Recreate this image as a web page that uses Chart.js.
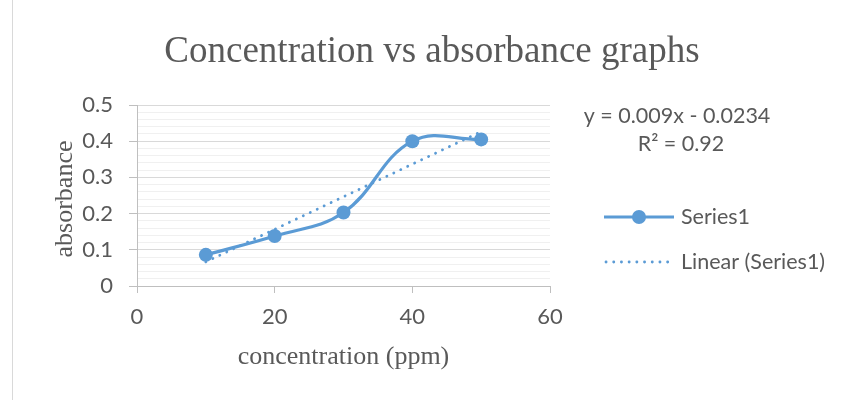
<!DOCTYPE html>
<html>
<head>
<meta charset="utf-8">
<script src="https://cdn.jsdelivr.net/npm/chart.js@4/dist/chart.umd.min.js"></script>
<style>
  html, body { margin: 0; padding: 0; background: #fff; }
  #wrap { position: relative; width: 846px; height: 400px; }
  #frame { position: absolute; left: 12px; top: 0; width: 1px; height: 400px; background: #d9d9d9; }
</style>
</head>
<body>
<div id="wrap">
  <canvas id="chart" width="846" height="400"></canvas>
  <div id="frame"></div>
</div>
<script>
// ── Data ────────────────────────────────────────────────────────────────
const chartTitle    = 'Concentration vs absorbance graphs';
const xAxisTitle    = 'concentration (ppm)';
const yAxisTitle    = 'absorbance';
const concentration = [10, 20, 30, 40, 50];
const absorbance    = [0.086, 0.138, 0.203, 0.400, 0.405];
const trendX        = [10, 50];
const trendY        = [0.0666, 0.4266];
const yTickLabels   = ['0', '0.1', '0.2', '0.3', '0.4', '0.5'];
const equationLines = ['y = 0.009x - 0.0234', 'R² = 0.92'];
const legendLabels  = ['Series1', 'Linear (Series1)'];

const BLUE  = '#5b9bd5';
const TEXT  = '#595959';
const SANS  = 'Lato, "Open Sans", sans-serif';
const SERIF = '"Liberation Serif", "Times New Roman", serif';

const isMajor = v => Math.abs(v * 10 - Math.round(v * 10)) < 1e-6;

// ── Title, axis titles, trend equation and legend ───────────────────────
const annotations = {
  id: 'annotations',
  afterDraw(chart) {
    const ctx = chart.ctx;
    const area = chart.chartArea;
    ctx.save();
    ctx.fillStyle = TEXT;
    ctx.textAlign = 'center';
    ctx.textBaseline = 'alphabetic';

    ctx.font = `37px ${SERIF}`;
    ctx.fillText(chartTitle, 432, 62);

    ctx.font = `26px ${SERIF}`;
    ctx.fillText(xAxisTitle, (area.left + area.right) / 2, 364);
    ctx.save();
    ctx.translate(72, 199);
    ctx.rotate(-Math.PI / 2);
    ctx.fillText(yAxisTitle, 0, 0);
    ctx.restore();

    ctx.textBaseline = 'middle';
    ctx.font = `21.5px ${SANS}`;
    ctx.fillText(equationLines[0], 677, 116);
    ctx.fillText(equationLines[1], 681, 144);

    // legend: series line with marker
    ctx.strokeStyle = BLUE;
    ctx.lineWidth = 3;
    ctx.beginPath(); ctx.moveTo(604, 217); ctx.lineTo(674, 217); ctx.stroke();
    ctx.fillStyle = BLUE;
    ctx.beginPath(); ctx.arc(639, 217, 7, 0, Math.PI * 2); ctx.fill();

    // legend: dotted trend line
    ctx.lineWidth = 2.8;
    ctx.lineCap = 'round';
    ctx.setLineDash([0.1, 7.6]);
    ctx.beginPath(); ctx.moveTo(606, 262); ctx.lineTo(674, 262); ctx.stroke();
    ctx.setLineDash([]);

    ctx.fillStyle = TEXT;
    ctx.textAlign = 'left';
    ctx.fillText(legendLabels[0], 681, 217);
    ctx.fillText(legendLabels[1], 681, 262);
    ctx.restore();
  }
};

new Chart(document.getElementById('chart'), {
  type: 'line',
  data: {
    datasets: [
      {
        label: legendLabels[1],
        data: trendX.map((x, i) => ({ x, y: trendY[i] })),
        borderColor: BLUE,
        borderWidth: 2.8,
        borderDash: [0.1, 7.6],
        borderCapStyle: 'round',
        pointRadius: 0,
        tension: 0,
        order: 2
      },
      {
        label: legendLabels[0],
        data: concentration.map((x, i) => ({ x, y: absorbance[i] })),
        borderColor: BLUE,
        backgroundColor: BLUE,
        borderWidth: 3.2,
        pointRadius: 7,
        pointBorderWidth: 0,
        pointBackgroundColor: BLUE,
        tension: 0.4,
        order: 1
      }
    ]
  },
  options: {
    responsive: false,
    animation: false,
    layout: { padding: { top: 105, right: 296, left: 0, bottom: 0 } },
    plugins: { legend: { display: false }, title: { display: false }, tooltip: { enabled: false } },
    scales: {
      x: {
        type: 'linear',
        min: 0, max: 60,
        ticks: { stepSize: 20, color: TEXT, font: { family: SANS, size: 22 }, padding: 11 },
        grid: { drawOnChartArea: false, drawTicks: true, tickLength: 7, color: '#bfbfbf' },
        border: { color: '#bfbfbf', width: 1 },
        afterFit: s => { s.height = 114; }
      },
      y: {
        min: 0, max: 0.5,
        ticks: {
          stepSize: 0.02,
          autoSkip: false,
          color: TEXT,
          font: { family: SANS, size: 22 },
          padding: 16,
          callback: v => isMajor(v) ? yTickLabels[Math.round(v * 10)] : ''
        },
        grid: {
          color: c => isMajor(c.tick.value) ? '#d9d9d9' : '#f0f0f0',
          tickColor: c => isMajor(c.tick.value) ? '#bfbfbf' : 'rgba(0,0,0,0)',
          tickLength: 8
        },
        border: { color: '#bfbfbf', width: 1 },
        afterFit: s => { s.width = 137; }
      }
    }
  },
  plugins: [annotations]
});
</script>
</body>
</html>
